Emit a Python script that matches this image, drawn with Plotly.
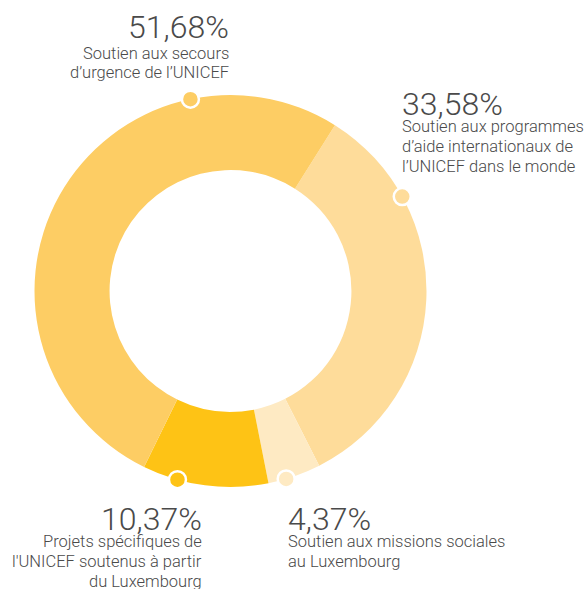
import math
import plotly.graph_objects as go

# ---- data ----
categories = [
    "Soutien aux programmes d'aide internationaux de l'UNICEF dans le monde",
    "Soutien aux missions sociales au Luxembourg",
    "Projets spécifiques de l'UNICEF soutenus à partir du Luxembourg",
    "Soutien aux secours d'urgence de l'UNICEF",
]
values = [33.58, 4.37, 10.37, 51.68]
pct_labels = ["33,58%", "4,37%", "10,37%", "51,68%"]
label_lines = [
    ["Soutien aux programmes", "d’aide internationaux de", "l’UNICEF dans le monde"],
    ["Soutien aux missions sociales", "au Luxembourg"],
    ["Projets spécifiques de", "l'UNICEF soutenus à partir", "du Luxembourg"],
    ["Soutien aux secours", "d’urgence de l’UNICEF"],
]
colors = ["#fedc9a", "#feeac3", "#fec315", "#fdcd64"]

# ---- layout config ----
W, H = 584, 589
CX, CY, R = 230.5, 291.0, 196.0   # pixel centre/radius of the donut
HOLE = 0.617
ROTATION = 32.2
marker_angles = [61.2, 163.5, 195.7, 348.2]   # clockwise from 12 o'clock
# annotation anchors (pixels from top-left): x, pct top, first label line top, align
label_pos = [
    (400, 83, 115, "left"),
    (286, 498, 530, "left"),
    (204, 498, 530, "right"),
    (231, 6, 41.5, "right"),
]
LINE_GAP = 19.8
TXT = "#4a4a4a"
FONT = "Roboto"

fig = go.Figure()
fig.add_trace(go.Pie(
    labels=categories, values=values, sort=False, direction="clockwise",
    rotation=ROTATION, hole=HOLE, textinfo="none", hoverinfo="label+percent",
    marker=dict(colors=colors, line=dict(width=0)),
    domain=dict(x=[(CX - R) / W, (CX + R) / W],
                y=[(H - CY - R) / H, (H - CY + R) / H]),
    showlegend=False,
))

shapes = []
for ang, col in zip(marker_angles, colors):
    a = math.radians(ang)
    px = CX + R * math.sin(a)
    py = CY - R * math.cos(a)
    shapes.append(dict(
        type="circle", xref="paper", yref="paper",
        xsizemode="pixel", ysizemode="pixel",
        xanchor=px / W, yanchor=1 - py / H,
        x0=-8.5, x1=8.5, y0=-8.5, y1=8.5,
        fillcolor=col, line=dict(color="white", width=2.5),
    ))

annotations = []
for (x, ypct, ylab, al), pct, lines in zip(label_pos, pct_labels, label_lines):
    annotations.append(dict(
        xref="paper", yref="paper", x=x / W, y=1 - ypct / H,
        xanchor=al, yanchor="top", align=al, showarrow=False,
        text=pct, font=dict(family=FONT, size=32, color=TXT, weight=300),
    ))
    for i, ln in enumerate(lines):
        annotations.append(dict(
            xref="paper", yref="paper", x=x / W, y=1 - (ylab + i * LINE_GAP) / H,
            xanchor=al, yanchor="top", align=al, showarrow=False,
            text=ln, font=dict(family=FONT, size=16.5, color=TXT, weight=300),
        ))

fig.update_layout(
    width=W, height=H, margin=dict(l=0, r=0, t=0, b=0),
    paper_bgcolor="white", plot_bgcolor="white",
    shapes=shapes, annotations=annotations,
)
fig.write_html("out.html", config={"displayModeBar": False},
               post_script="document.body.style.margin='0';")
